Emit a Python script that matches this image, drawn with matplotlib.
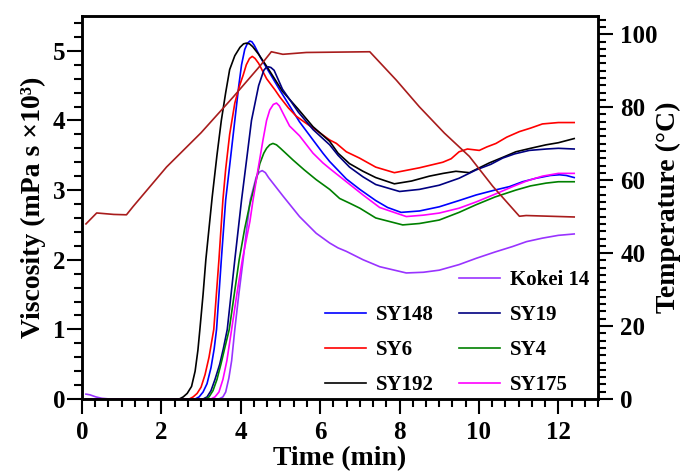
import matplotlib
matplotlib.use("Agg")
import matplotlib.pyplot as plt
from matplotlib.lines import Line2D
from matplotlib.ticker import AutoMinorLocator, MultipleLocator

plt.rcParams["font.family"] = ["Liberation Serif", "DejaVu Serif"]
plt.rcParams["font.weight"] = "bold"

# viscosity curves, x in min, y in mPa s x10^3
t_sy148 = [0.1, 2.85, 2.95, 3.05, 3.15, 3.25, 3.33, 3.39, 3.51, 3.62, 3.72, 3.85, 3.95, 4.02, 4.1,
           4.17, 4.23, 4.28, 4.34, 4.42, 4.5, 4.98, 5.48, 5.82, 6.07, 6.24, 6.66, 7.0, 7.4, 7.7,
           8.04, 8.5, 9.0, 9.5, 9.93, 10.4, 10.77, 11.1, 11.44, 11.8, 12.03, 12.2, 12.4]
v_sy148 = [0.0, 0.0, 0.03, 0.1, 0.22, 0.45, 0.72, 1.0, 2.0, 2.86, 3.35, 4.0, 4.5, 4.8, 5.02,
           5.11, 5.14, 5.13, 5.08, 4.99, 4.9, 4.44, 3.98, 3.72, 3.53, 3.41, 3.16, 3.01, 2.85, 2.75,
           2.68, 2.7, 2.76, 2.85, 2.93, 3.0, 3.05, 3.12, 3.17, 3.21, 3.22, 3.21, 3.18]

t_sy6 = [0.1, 2.7, 2.8, 2.9, 3.0, 3.1, 3.2, 3.32, 3.45, 3.55, 3.62, 3.72, 3.85, 3.97, 4.06, 4.14,
         4.22, 4.29, 4.36, 4.45, 4.65, 4.86, 4.98, 5.2, 5.4, 5.62, 5.9, 6.24, 6.41, 6.66, 6.99, 7.4,
         7.87, 8.5, 9.09, 9.3, 9.5, 9.71, 10.01, 10.2, 10.43, 10.7, 11.02, 11.3, 11.6, 12.0, 12.4]
v_sy6 = [0.0, 0.0, 0.03, 0.08, 0.17, 0.35, 0.6, 1.0, 2.0, 2.86, 3.3, 3.8, 4.25, 4.5, 4.65, 4.8,
         4.89, 4.92, 4.89, 4.82, 4.6, 4.44, 4.34, 4.18, 4.06, 3.97, 3.86, 3.72, 3.67, 3.55, 3.46, 3.33,
         3.25, 3.32, 3.4, 3.45, 3.55, 3.59, 3.57, 3.62, 3.67, 3.76, 3.84, 3.89, 3.95, 3.97, 3.97]

t_sy192 = [0.1, 2.45, 2.55, 2.65, 2.76, 2.85, 2.92, 2.97, 3.05, 3.12, 3.2, 3.28, 3.4, 3.51, 3.62,
           3.72, 3.85, 3.98, 4.07, 4.14, 4.22, 4.3, 4.45, 4.65, 5.05, 5.45, 5.82, 6.24, 6.45, 6.74,
           7.08, 7.4, 7.87, 8.3, 8.75, 9.1, 9.42, 9.76, 10.26, 10.6, 10.93, 11.3, 11.69, 12.0, 12.4]
v_sy192 = [0.0, 0.0, 0.03, 0.08, 0.18, 0.4, 0.7, 1.0, 1.5, 2.0, 2.45, 2.9, 3.5, 4.0, 4.4,
           4.73, 4.93, 5.05, 5.1, 5.11, 5.1, 5.06, 4.95, 4.78, 4.42, 4.16, 3.91, 3.7, 3.53, 3.38,
           3.27, 3.18, 3.09, 3.13, 3.2, 3.24, 3.27, 3.25, 3.39, 3.47, 3.55, 3.6, 3.65, 3.68, 3.74]

t_sy19 = [0.1, 3.05, 3.15, 3.25, 3.35, 3.47, 3.56, 3.66, 3.85, 4.02, 4.15, 4.27, 4.45, 4.58, 4.64,
          4.7, 4.76, 4.84, 5.05, 5.45, 5.82, 6.24, 6.45, 6.74, 7.08, 7.4, 8.0, 8.5, 9.0, 9.5, 9.93,
          10.3, 10.6, 10.9, 11.27, 11.7, 12.0, 12.4]
v_sy19 = [0.0, 0.0, 0.03, 0.12, 0.28, 0.5, 0.72, 1.0, 2.0, 2.86, 3.45, 4.0, 4.5, 4.72, 4.76,
          4.77, 4.76, 4.72, 4.45, 4.12, 3.87, 3.65, 3.5, 3.33, 3.19, 3.08, 2.98, 3.01, 3.07, 3.17, 3.29,
          3.37, 3.46, 3.52, 3.57, 3.59, 3.6, 3.59]

t_sy4 = [0.1, 3.1, 3.2, 3.3, 3.4, 3.5, 3.6, 3.71, 3.96, 4.1, 4.23, 4.39, 4.48, 4.58, 4.65, 4.73,
         4.81, 4.9, 5.0, 5.32, 5.6, 5.9, 6.24, 6.49, 6.75, 7.0, 7.4, 8.08, 8.5, 9.0, 9.5, 9.93, 10.4,
         10.93, 11.3, 11.69, 12.0, 12.4]
v_sy4 = [0.0, 0.0, 0.03, 0.12, 0.28, 0.5, 0.74, 1.0, 2.0, 2.45, 2.8, 3.15, 3.38, 3.53, 3.6, 3.65,
         3.67, 3.65, 3.6, 3.43, 3.29, 3.15, 3.01, 2.88, 2.81, 2.74, 2.6, 2.5, 2.52, 2.57, 2.68, 2.79,
         2.9, 3.0, 3.06, 3.1, 3.12, 3.12]

t_sy175 = [0.1, 3.25, 3.35, 3.45, 3.55, 3.65, 3.77, 3.9, 4.04, 4.23, 4.31, 4.45, 4.56, 4.65, 4.73,
           4.82, 4.9, 4.97, 5.05, 5.23, 5.48, 5.82, 6.07, 6.24, 6.66, 7.08, 7.5, 8.17, 8.6, 9.0, 9.5,
           9.93, 10.4, 10.85, 11.2, 11.6, 12.0, 12.4]
v_sy175 = [0.0, 0.0, 0.03, 0.1, 0.28, 0.55, 1.0, 1.5, 2.0, 2.55, 2.86, 3.35, 3.72, 4.0, 4.15,
           4.23, 4.25, 4.21, 4.12, 3.92, 3.78, 3.53, 3.39, 3.31, 3.12, 2.93, 2.75, 2.62, 2.64, 2.67,
           2.74, 2.83, 2.94, 3.05, 3.13, 3.2, 3.24, 3.24]

t_kokei = [0.1, 0.2, 0.35, 0.5, 0.7, 3.45, 3.55, 3.62, 3.7, 3.77, 3.85, 3.95, 4.06, 4.15, 4.24,
           4.39, 4.47, 4.54, 4.62, 4.7, 5.07, 5.48, 5.9, 6.24, 6.45, 6.66, 7.08, 7.5, 8.17, 8.6, 9.0,
           9.5, 9.93, 10.4, 10.85, 11.2, 11.6, 12.0, 12.4]
v_kokei = [0.07, 0.06, 0.03, 0.01, 0.0, 0.0, 0.03, 0.1, 0.3, 0.55, 1.0, 1.5, 2.0, 2.45, 2.86,
           3.19, 3.26, 3.28, 3.25, 3.18, 2.91, 2.62, 2.38, 2.24, 2.17, 2.12, 2.0, 1.9, 1.81, 1.82,
           1.85, 1.93, 2.02, 2.11, 2.19, 2.26, 2.31, 2.35, 2.37]

# temperature profile (right axis, deg C)
t_temp = [0.1, 0.37, 0.8, 1.12, 1.29, 2.13, 3.0, 3.81, 4.5, 4.77, 5.06, 5.65, 7.25, 7.92, 8.5,
          9.13, 9.76, 10.35, 11.02, 11.19, 12.4]
temp = [48.0, 51.0, 50.6, 50.5, 52.8, 63.6, 73.0, 82.8, 91.5, 95.2, 94.5, 95.0, 95.2, 87.4, 80.1,
        72.9, 66.5, 58.3, 50.1, 50.3, 49.9]

series = [
    ("SY148", t_sy148, v_sy148, "#0000FF"),
    ("SY6", t_sy6, v_sy6, "#FF0000"),
    ("SY192", t_sy192, v_sy192, "#000000"),
    ("Kokei 14", t_kokei, v_kokei, "#9933FF"),
    ("SY19", t_sy19, v_sy19, "#000080"),
    ("SY4", t_sy4, v_sy4, "#008000"),
    ("SY175", t_sy175, v_sy175, "#FF00FF"),
]

fig = plt.figure(figsize=(6.81, 4.72), dpi=100)
ax = fig.add_axes([82 / 681, 1 - 399 / 472, 516 / 681, 383 / 472])
ax2 = ax.twinx()

handles = {}
for name, t, v, c in series:
    (ln,) = ax.plot(t, v, color=c, lw=1.2, label=name, solid_joinstyle="round")
    handles[name] = ln
ax2.plot(t_temp, temp, color="#A81C1C", lw=1.2)

ax.set_xlim(0, 13)
ax.set_ylim(0, 5.5)
ax2.set_ylim(0, 105)

ax.xaxis.set_major_locator(MultipleLocator(2))
ax.xaxis.set_minor_locator(AutoMinorLocator(6))
ax.yaxis.set_major_locator(MultipleLocator(1))
ax.yaxis.set_minor_locator(MultipleLocator(0.2))
ax2.yaxis.set_major_locator(MultipleLocator(20))
ax2.yaxis.set_minor_locator(MultipleLocator(2))

for a in (ax, ax2):
    for sp in a.spines.values():
        sp.set_linewidth(1.8)
    a.tick_params(which="major", direction="out", length=10.5, width=1.5, labelsize=18)
    a.tick_params(which="minor", direction="out", length=5.5, width=1.5)
ax.tick_params(axis="x", pad=5)
ax.tick_params(axis="y", pad=1.5)
ax2.tick_params(axis="y", pad=5.5)
ax.tick_params(top=False, right=False)

ax.set_xlabel("Time (min)", fontsize=20, fontweight="bold", labelpad=1.5)
ax.set_ylabel("Viscosity (mPa s ×10³)", fontsize=20, fontweight="bold", labelpad=5)
ax2.set_ylabel("Temperature (°C)", fontsize=20, fontweight="bold", labelpad=-1)

blank = Line2D([], [], color="none")
order = [blank, handles["SY148"], handles["SY6"], handles["SY192"],
         handles["Kokei 14"], handles["SY19"], handles["SY4"], handles["SY175"]]
labels = ["", "SY148", "SY6", "SY192", "Kokei 14", "SY19", "SY4", "SY175"]
ax.legend(order, labels, ncol=2, frameon=False, loc="lower left",
          bbox_to_anchor=(325 / 681, 1 - 395 / 472), bbox_transform=fig.transFigure,
          prop={"size": 15, "weight": "bold"}, handlelength=1.95, handletextpad=0.5,
          columnspacing=1.2, labelspacing=0.72, borderpad=0, borderaxespad=0)

fig.savefig("out.png", dpi=100)
